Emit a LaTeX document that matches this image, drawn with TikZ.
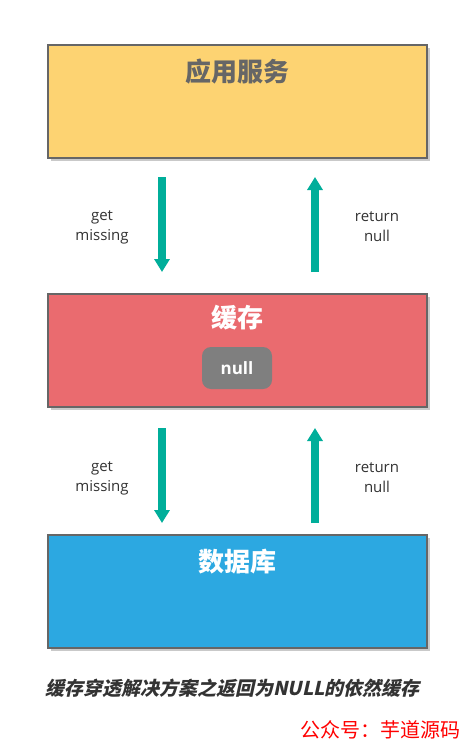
\documentclass[tikz,border=0pt]{standalone}
\usepackage{fontspec}
\setmainfont{Open Sans}
\newfontfamily\cjk{Noto Sans CJK SC}
\newfontfamily\cjksl{Noto Sans CJK SC}[FakeSlant=0.22]
\usetikzlibrary{arrows.meta,shadows}
\definecolor{appyellow}{HTML}{FDD372}
\definecolor{cachered}{HTML}{EA6B6F}
\definecolor{dbblue}{HTML}{2CA8E1}
\definecolor{teal}{HTML}{00AE9A}
\definecolor{bordergray}{HTML}{666666}
\definecolor{nullgray}{HTML}{7F7F7F}
\definecolor{labeltext}{HTML}{333333}
\begin{document}
\begin{tikzpicture}[x=1pt,y=-1pt,
  box/.style={draw=bordergray, line width=1.5pt, minimum width=379pt, minimum height=113pt, inner sep=0pt,
    drop shadow={shadow xshift=3pt, shadow yshift=-3pt, opacity=0.35, fill=black!60}},
  boxtitle/.style={font=\cjk\bfseries\fontsize{26}{26}\selectfont, inner sep=0pt},
  flow/.style={draw=teal, line width=8pt, -{Triangle[width=15pt,length=13pt]}},
  flowlabel/.style={font=\fontsize{15}{20.5}\selectfont, text=labeltext, align=center, inner sep=0pt}
]
\useasboundingbox (0,0) rectangle (473,749);
\fill[white] (0,0) rectangle (473,749);

% boxes
\node[box, fill=appyellow] (app) at (237.5,101.5) {};
\node[box, fill=cachered] (cache) at (237.5,350.5) {};
\node[box, fill=dbblue] (db) at (237.5,591.5) {};

\node[boxtitle, text=bordergray] (apptitle) at (237.5,72) {应用服务};
\node[boxtitle, text=white] (cachetitle) at (237.5,318) {缓存};
\node[boxtitle, text=white] (dbtitle) at (237.5,562) {数据库};

\node[fill=nullgray, rounded corners=9pt, minimum width=70pt, minimum height=42pt, inner sep=0pt,
  text=white, font=\bfseries\fontsize{17}{17}\selectfont] (nullbox) at (237,368) {null};

% arrow end points
\coordinate (g1s) at (162,177);
\coordinate (g1e) at (162,272);
\coordinate (r1s) at (315,272);
\coordinate (r1e) at (315,177);
\coordinate (g2s) at (162,428);
\coordinate (g2e) at (162,523);
\coordinate (r2s) at (315,523);
\coordinate (r2e) at (315,428);

\draw[flow] (g1s) -- (g1e);
\draw[flow] (r1s) -- (r1e);
\draw[flow] (g2s) -- (g2e);
\draw[flow] (r2s) -- (r2e);

\node[flowlabel] (l1) at (102,227.5) {get\\missing};
\node[flowlabel] (l2) at (377,226.5) {return\\null};
\node[flowlabel] (l3) at (102,478.5) {get\\missing};
\node[flowlabel] (l4) at (377,477.5) {return\\null};

\node[font=\cjksl\bfseries\fontsize{19}{19}\selectfont, text=labeltext, anchor=west, inner sep=0pt] (caption) at (45,688) {缓存穿透解决方案之返回为NULL的依然缓存};
\node[font=\cjk\fontsize{20}{20}\selectfont, text=red, anchor=east, inner sep=0pt] (mark) at (461,730) {公众号：芋道源码};
\end{tikzpicture}
\end{document}
